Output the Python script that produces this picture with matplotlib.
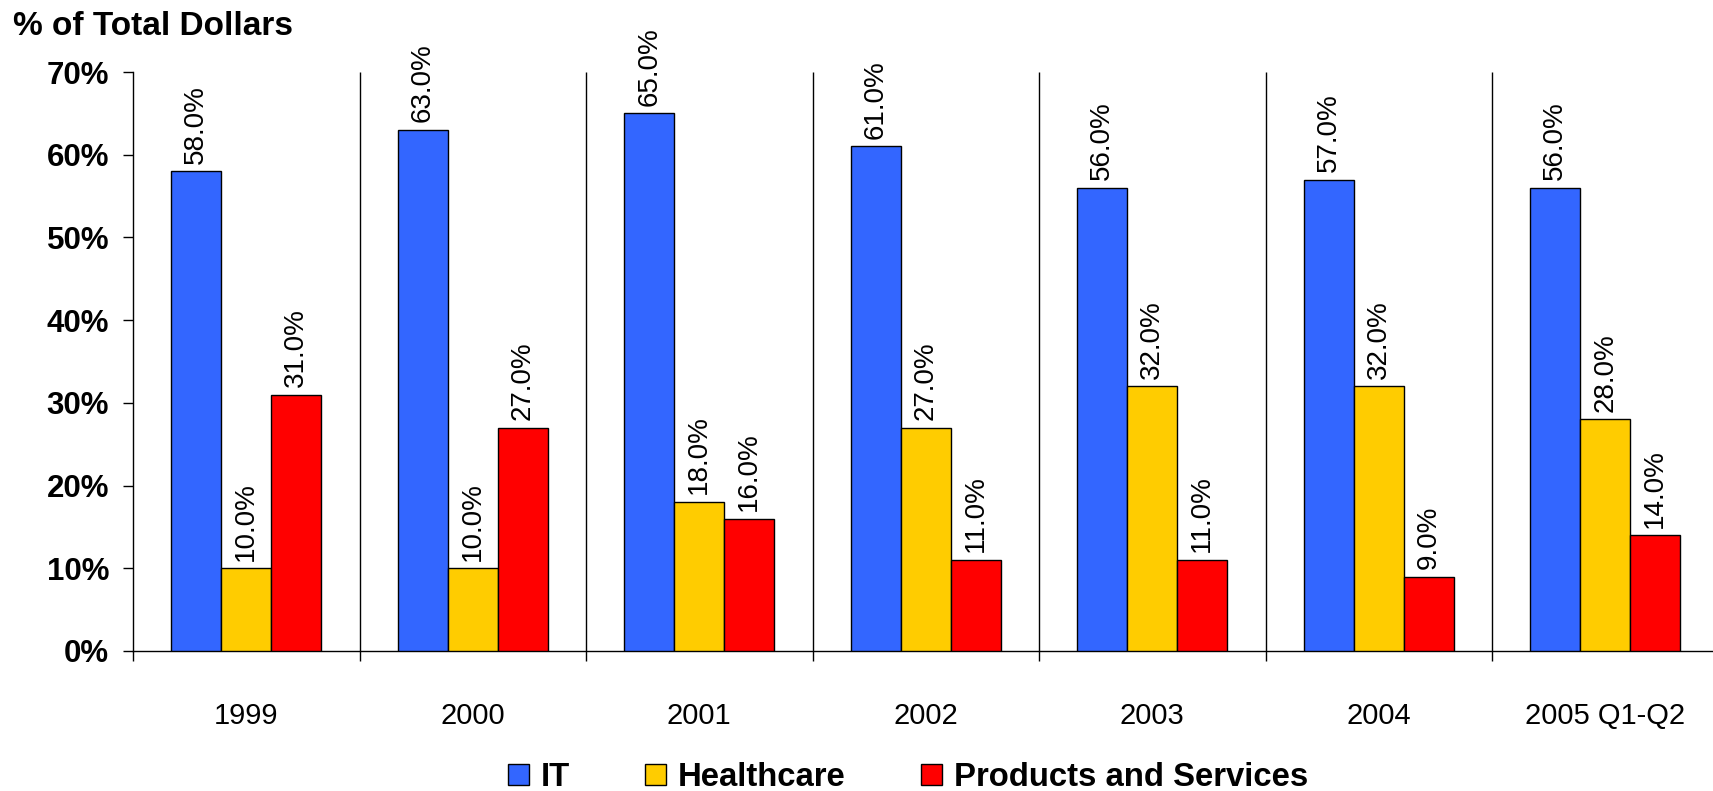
import matplotlib
matplotlib.use("Agg")
import matplotlib.pyplot as plt
from matplotlib.patches import Patch
import numpy as np

plt.rcParams['font.family'] = ['Liberation Sans', 'DejaVu Sans']

# Share of total dollars by sector
categories = ["1999", "2000", "2001", "2002", "2003", "2004", "2005 Q1-Q2"]
series_names = ["IT", "Healthcare", "Products and Services"]
it_values = [58.0, 63.0, 65.0, 61.0, 56.0, 57.0, 56.0]
healthcare_values = [10.0, 10.0, 18.0, 27.0, 32.0, 32.0, 28.0]
products_values = [31.0, 27.0, 16.0, 11.0, 11.0, 9.0, 14.0]
y_ticks = [0, 10, 20, 30, 40, 50, 60, 70]

colors = ["#3366FF", "#FFCC00", "#FF0000"]
W, H, DPI = 1713, 791, 100

fig = plt.figure(figsize=(W / DPI, H / DPI), dpi=DPI)
left, right, bottom, top = 133, 1718.5, 651, 72
ax = fig.add_axes([left / W, 1 - bottom / H, (right - left) / W, (bottom - top) / H])

x = np.arange(len(categories))
bw = 0.2208
offsets = [-bw, 0.0, bw]
all_values = [it_values, healthcare_values, products_values]

for vals, off, col in zip(all_values, offsets, colors):
    bars = ax.bar(x + off, vals, width=bw, color=col, edgecolor="black",
                  linewidth=1.0, zorder=3)
    for rect, v in zip(bars, vals):
        ax.annotate(f"{v:.1f}%",
                    xy=(rect.get_x() + rect.get_width() / 2, v),
                    xytext=(0, 5.5), textcoords="offset points",
                    ha="center", va="bottom", rotation=90,
                    fontsize=20, color="black")

ax.set_xlim(-0.5, len(categories) - 0.5)
ax.set_ylim(0, 70)

# category separators
ax.vlines(np.arange(0.5, len(categories) - 0.5, 1.0), 0, 70,
          colors="black", linewidth=1.0, zorder=2)

ax.spines["top"].set_visible(False)
ax.spines["right"].set_visible(False)
for s in ("left", "bottom"):
    ax.spines[s].set_linewidth(1.0)

ax.set_yticks(y_ticks)
ax.set_yticklabels([f"{t}%" for t in y_ticks], fontsize=22.5, fontweight="bold")
ax.tick_params(axis="y", direction="out", length=7.2, width=1.0, pad=10)

ax.set_xticks(x)
ax.set_xticklabels(categories, fontsize=21)
ax.tick_params(axis="x", which="major", length=0, pad=37)
ax.set_xticks(np.arange(-0.5, len(categories) + 0.5, 1.0), minor=True)
ax.tick_params(axis="x", which="minor", direction="out", length=7.5, width=1.0)

fig.text(13 / W, 1 - 35 / H, "% of Total Dollars", fontsize=24,
         fontweight="bold", ha="left", va="baseline")

handles = [Patch(facecolor=c, edgecolor="black", linewidth=1.0) for c in colors]
fig.legend(handles, series_names, loc="center", ncol=3,
           bbox_to_anchor=(908 / W, 1 - 778 / H), frameon=False,
           prop={"size": 23.7, "weight": "bold"},
           handlelength=0.64, handleheight=0.6, handletextpad=0.35,
           columnspacing=2.3, borderpad=0, borderaxespad=0)

fig.savefig("out.png", dpi=DPI)
